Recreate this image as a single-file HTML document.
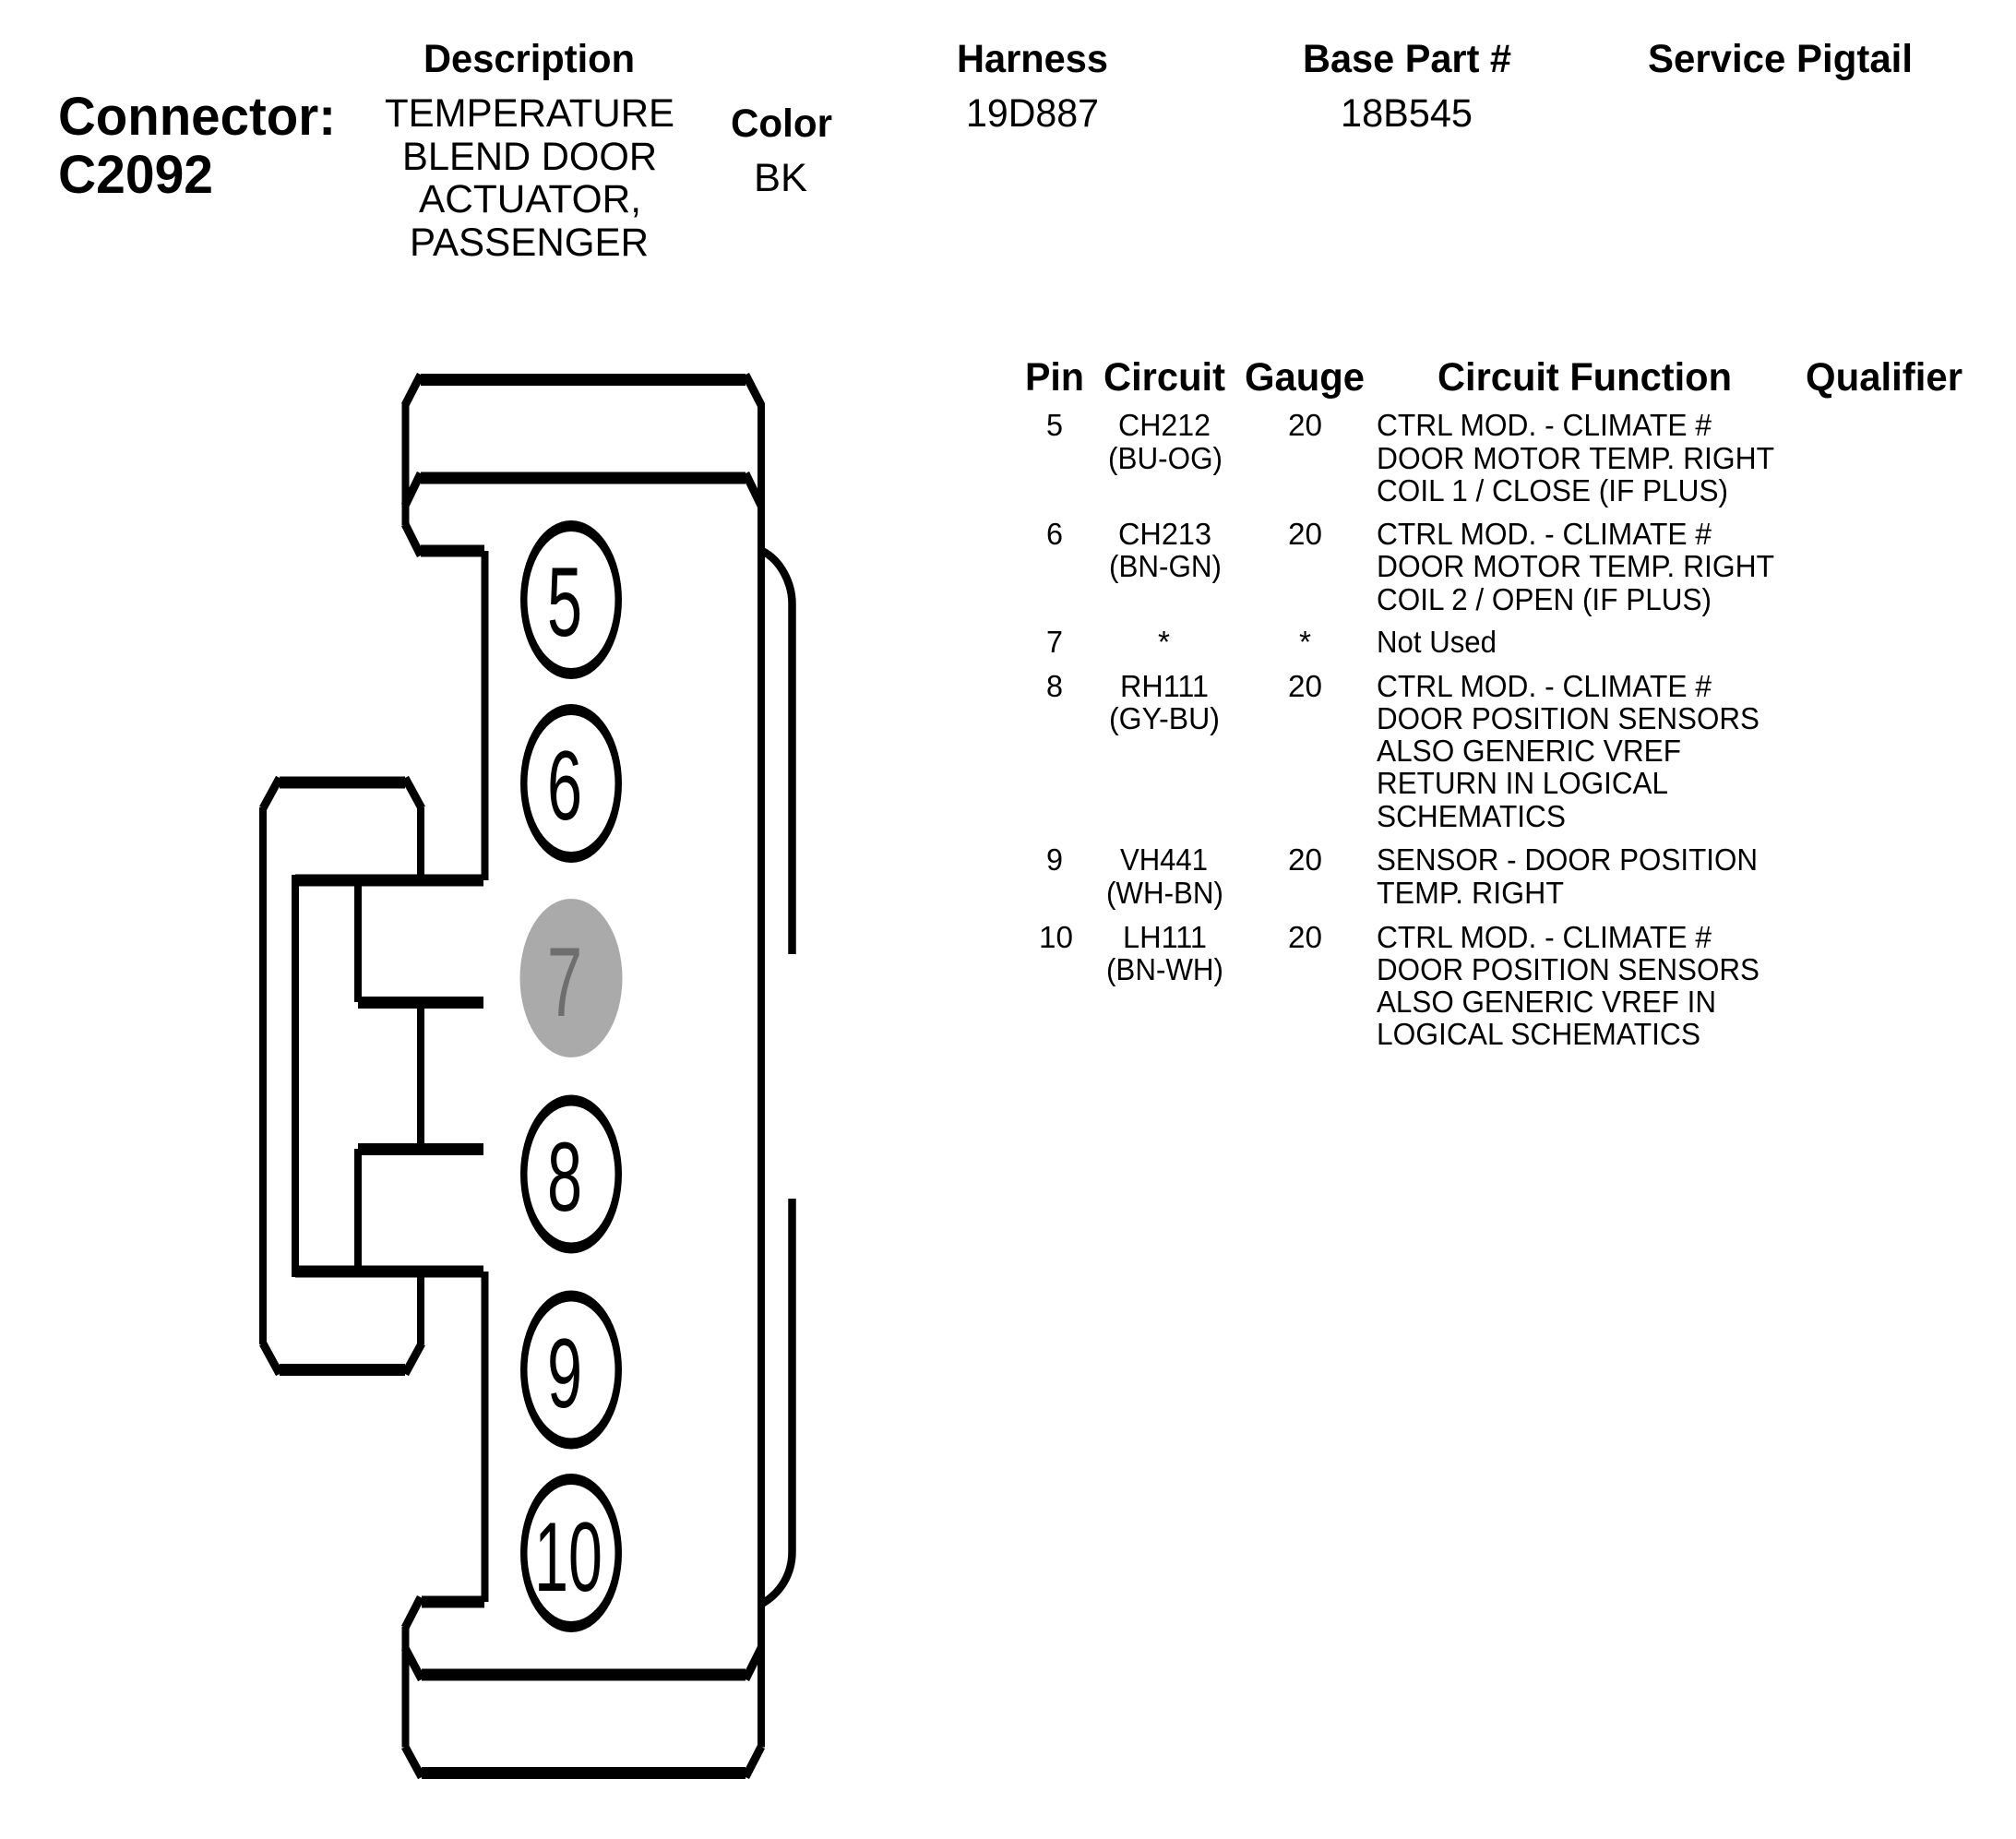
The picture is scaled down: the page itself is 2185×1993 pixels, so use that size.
<!DOCTYPE html>
<html><head><meta charset="utf-8"><style>
html,body{margin:0;padding:0;background:#fff}
svg{display:block}
text{font-family:"Liberation Sans",sans-serif;fill:#000}
.h{font-weight:bold;font-size:43px}
.t{font-size:43px}
.b{font-size:33.5px}
.c{font-weight:bold;font-size:58px}
.d{font-size:107px}
.l{fill:none;stroke:#000;stroke-linecap:butt;stroke-linejoin:miter}
</style></head><body>
<svg xmlns="http://www.w3.org/2000/svg" width="2185" height="1993" viewBox="0 0 2185 1993">
<rect width="2185" height="1993" fill="#fff"/>

<text class="h" x="459" y="78" textLength="229" lengthAdjust="spacingAndGlyphs">Description</text>
<text class="h" x="1037" y="78" textLength="164" lengthAdjust="spacingAndGlyphs">Harness</text>
<text class="h" x="1412" y="78" textLength="226" lengthAdjust="spacingAndGlyphs">Base Part #</text>
<text class="h" x="1786" y="78" textLength="287" lengthAdjust="spacingAndGlyphs">Service Pigtail</text>
<text class="c" x="63" y="146" textLength="301" lengthAdjust="spacingAndGlyphs">Connector:</text>
<text class="c" x="63" y="209" textLength="168" lengthAdjust="spacingAndGlyphs">C2092</text>
<text class="t" x="417" y="137" textLength="314" lengthAdjust="spacingAndGlyphs">TEMPERATURE</text>
<text class="t" x="436" y="184" textLength="276" lengthAdjust="spacingAndGlyphs">BLEND DOOR</text>
<text class="t" x="454" y="230" textLength="241" lengthAdjust="spacingAndGlyphs">ACTUATOR,</text>
<text class="t" x="444" y="277" textLength="259" lengthAdjust="spacingAndGlyphs">PASSENGER</text>
<text class="h" x="792" y="148" textLength="110" lengthAdjust="spacingAndGlyphs">Color</text>
<text class="t" x="817" y="207" textLength="58" lengthAdjust="spacingAndGlyphs">BK</text>
<text class="t" x="1047" y="137" textLength="144" lengthAdjust="spacingAndGlyphs">19D887</text>
<text class="t" x="1453" y="137" textLength="143" lengthAdjust="spacingAndGlyphs">18B545</text>

<text class="h" x="1111" y="423" textLength="64" lengthAdjust="spacingAndGlyphs">Pin</text>
<text class="h" x="1196" y="423" textLength="132" lengthAdjust="spacingAndGlyphs">Circuit</text>
<text class="h" x="1349" y="423" textLength="130" lengthAdjust="spacingAndGlyphs">Gauge</text>
<text class="h" x="1558" y="423" textLength="319" lengthAdjust="spacingAndGlyphs">Circuit Function</text>
<text class="h" x="1957" y="423" textLength="170" lengthAdjust="spacingAndGlyphs">Qualifier</text>

<!-- pin column -->
<text class="b" x="1134" y="472" textLength="18" lengthAdjust="spacingAndGlyphs">5</text>
<text class="b" x="1134" y="590" textLength="18" lengthAdjust="spacingAndGlyphs">6</text>
<text class="b" x="1134" y="707" textLength="18" lengthAdjust="spacingAndGlyphs">7</text>
<text class="b" x="1134" y="755" textLength="18" lengthAdjust="spacingAndGlyphs">8</text>
<text class="b" x="1134" y="943" textLength="18" lengthAdjust="spacingAndGlyphs">9</text>
<text class="b" x="1126" y="1027" textLength="37" lengthAdjust="spacingAndGlyphs">10</text>

<!-- circuit column -->
<text class="b" x="1212" y="472" textLength="100" lengthAdjust="spacingAndGlyphs">CH212</text>
<text class="b" x="1201" y="508" textLength="124" lengthAdjust="spacingAndGlyphs">(BU-OG)</text>
<text class="b" x="1212" y="590" textLength="101" lengthAdjust="spacingAndGlyphs">CH213</text>
<text class="b" x="1202" y="625" textLength="122" lengthAdjust="spacingAndGlyphs">(BN-GN)</text>
<text class="b" x="1255" y="707">*</text>
<text class="b" x="1214" y="755" textLength="96" lengthAdjust="spacingAndGlyphs">RH111</text>
<text class="b" x="1202" y="790" textLength="120" lengthAdjust="spacingAndGlyphs">(GY-BU)</text>
<text class="b" x="1214" y="943" textLength="95" lengthAdjust="spacingAndGlyphs">VH441</text>
<text class="b" x="1199" y="979" textLength="127" lengthAdjust="spacingAndGlyphs">(WH-BN)</text>
<text class="b" x="1217" y="1027" textLength="91" lengthAdjust="spacingAndGlyphs">LH111</text>
<text class="b" x="1199" y="1062" textLength="127" lengthAdjust="spacingAndGlyphs">(BN-WH)</text>

<!-- gauge column -->
<text class="b" x="1396" y="472" textLength="37" lengthAdjust="spacingAndGlyphs">20</text>
<text class="b" x="1396" y="590" textLength="37" lengthAdjust="spacingAndGlyphs">20</text>
<text class="b" x="1408" y="707">*</text>
<text class="b" x="1396" y="755" textLength="37" lengthAdjust="spacingAndGlyphs">20</text>
<text class="b" x="1396" y="943" textLength="37" lengthAdjust="spacingAndGlyphs">20</text>
<text class="b" x="1396" y="1027" textLength="37" lengthAdjust="spacingAndGlyphs">20</text>

<!-- function column -->
<text class="b" x="1492" y="472" textLength="363" lengthAdjust="spacingAndGlyphs">CTRL MOD. - CLIMATE #</text>
<text class="b" x="1492" y="508" textLength="431" lengthAdjust="spacingAndGlyphs">DOOR MOTOR TEMP. RIGHT</text>
<text class="b" x="1492" y="543" textLength="381" lengthAdjust="spacingAndGlyphs">COIL 1 / CLOSE (IF PLUS)</text>
<text class="b" x="1492" y="590" textLength="363" lengthAdjust="spacingAndGlyphs">CTRL MOD. - CLIMATE #</text>
<text class="b" x="1492" y="625" textLength="431" lengthAdjust="spacingAndGlyphs">DOOR MOTOR TEMP. RIGHT</text>
<text class="b" x="1492" y="661" textLength="363" lengthAdjust="spacingAndGlyphs">COIL 2 / OPEN (IF PLUS)</text>
<text class="b" x="1492" y="707" textLength="130" lengthAdjust="spacingAndGlyphs">Not Used</text>
<text class="b" x="1492" y="755" textLength="363" lengthAdjust="spacingAndGlyphs">CTRL MOD. - CLIMATE #</text>
<text class="b" x="1492" y="790" textLength="415" lengthAdjust="spacingAndGlyphs">DOOR POSITION SENSORS</text>
<text class="b" x="1492" y="825" textLength="330" lengthAdjust="spacingAndGlyphs">ALSO GENERIC VREF</text>
<text class="b" x="1492" y="860" textLength="316" lengthAdjust="spacingAndGlyphs">RETURN IN LOGICAL</text>
<text class="b" x="1492" y="896" textLength="205" lengthAdjust="spacingAndGlyphs">SCHEMATICS</text>
<text class="b" x="1492" y="943" textLength="413" lengthAdjust="spacingAndGlyphs">SENSOR - DOOR POSITION</text>
<text class="b" x="1492" y="979" textLength="203" lengthAdjust="spacingAndGlyphs">TEMP. RIGHT</text>
<text class="b" x="1492" y="1027" textLength="363" lengthAdjust="spacingAndGlyphs">CTRL MOD. - CLIMATE #</text>
<text class="b" x="1492" y="1062" textLength="415" lengthAdjust="spacingAndGlyphs">DOOR POSITION SENSORS</text>
<text class="b" x="1492" y="1097" textLength="368" lengthAdjust="spacingAndGlyphs">ALSO GENERIC VREF IN</text>
<text class="b" x="1492" y="1132" textLength="351" lengthAdjust="spacingAndGlyphs">LOGICAL SCHEMATICS</text>

<!-- connector: horizontals (thick) -->
<g class="l" stroke-width="13">
<path d="M456 411.5H808"/>
<path d="M456 518H808"/>
<path d="M456 597H525"/>
<path d="M303 848H439"/>
<path d="M320 954H524"/>
<path d="M388 1086.5H524"/>
<path d="M388 1245.5H524"/>
<path d="M320 1378H524"/>
<path d="M303 1484.5H439"/>
<path d="M457 1736H525"/>
<path d="M457 1815H808"/>
<path d="M457 1921.5H808"/>
</g>
<!-- verticals -->
<g class="l" stroke-width="8">
<path d="M439.5 437V569"/>
<path d="M825 437V1893.5"/>
<path d="M525.5 597V954"/>
<path d="M285 875V1457"/>
<path d="M456 875V954"/>
<path d="M320 948V1384"/>
<path d="M388 954V1086"/>
<path d="M456 1086V1245"/>
<path d="M388 1245V1378"/>
<path d="M456 1378V1457"/>
<path d="M525.5 1378V1736"/>
<path d="M439.5 1763V1893.5"/>
</g>
<!-- chamfers -->
<g class="l" stroke-width="9">
<path d="M456 406L439 439"/>
<path d="M808 406L825 439"/>
<path d="M456 513L439 548"/>
<path d="M808 513L825 548"/>
<path d="M439 568L456 602"/>
<path d="M303 843L285 876"/>
<path d="M439 843L457 876"/>
<path d="M285 1456L303 1489"/>
<path d="M457 1456L439 1489"/>
<path d="M456 1731L439 1764"/>
<path d="M439 1786L457 1820"/>
<path d="M825 1786L808 1820"/>
<path d="M439 1893L457 1926"/>
<path d="M825 1893L808 1926"/>
</g>
<!-- right side clip -->
<g class="l" stroke-width="8.5">
<path d="M826 597C846 607 859 632 858.5 656V1034"/>
<path d="M858.5 1299V1680C859 1706 846 1726 826 1738"/>
</g>

<!-- pins -->
<g>
<ellipse cx="619" cy="650" rx="55" ry="86" fill="#000"/><ellipse cx="619" cy="650" rx="47.5" ry="74" fill="#fff"/>
<ellipse cx="619" cy="849" rx="55" ry="86" fill="#000"/><ellipse cx="619" cy="849" rx="47.5" ry="74" fill="#fff"/>
<ellipse cx="619" cy="1060" rx="55.5" ry="86" fill="#aaaaaa"/>
<ellipse cx="619" cy="1272.5" rx="55" ry="86" fill="#000"/><ellipse cx="619" cy="1272.5" rx="47.5" ry="74" fill="#fff"/>
<ellipse cx="619" cy="1484.5" rx="55" ry="86" fill="#000"/><ellipse cx="619" cy="1484.5" rx="47.5" ry="74" fill="#fff"/>
<ellipse cx="619" cy="1683" rx="55" ry="86" fill="#000"/><ellipse cx="619" cy="1683" rx="47.5" ry="74" fill="#fff"/>
</g>
<g text-anchor="middle">
<text class="d" transform="translate(612,689) scale(.64,1)">5</text>
<text class="d" transform="translate(612,888) scale(.64,1)">6</text>
<text class="d" transform="translate(612,1101) scale(.64,1)" style="fill:#6e6e6e">7</text>
<text class="d" transform="translate(612,1312) scale(.64,1)">8</text>
<text class="d" transform="translate(612,1525) scale(.64,1)">9</text>
<text class="d" transform="translate(616,1724) scale(.62,1)">10</text>
</g>
</svg>
</body></html>
